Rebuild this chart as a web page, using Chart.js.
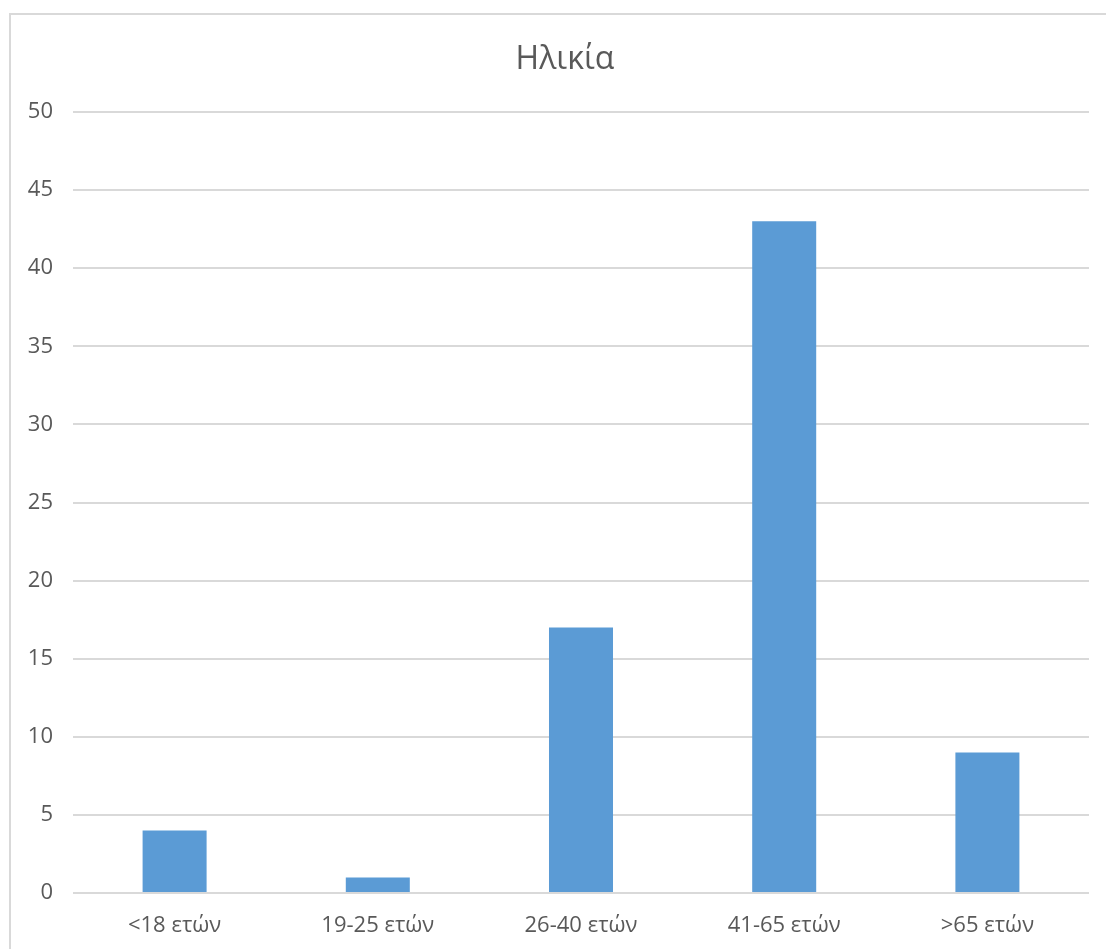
<!DOCTYPE html>
<html>
<head>
<meta charset="utf-8">
<script src="https://cdn.jsdelivr.net/npm/chart.js@4"></script>
<style>
    html, body { margin: 0; padding: 0; background: #fff; overflow: hidden; }
    #myChart { position: absolute; left: 0; top: 0; }
</style>
</head>
<body>
<canvas id="myChart" width="1106" height="949"></canvas>
<script>
// ηλικιακές ομάδες και πλήθος ατόμων
const ageGroups = ['<18 ετών', '19-25 ετών', '26-40 ετών', '41-65 ετών', '>65 ετών'];
const counts = [4, 1, 17, 43, 9];
const yTicks = [0, 5, 10, 15, 20, 25, 30, 35, 40, 45, 50];

const textColor = '#595959';
const gridColor = '#d9d9d9';

// πλαίσιο γύρω από το γράφημα
const frame = {
    id: 'frame',
    beforeDraw(chart){
        const c = chart.ctx;
        c.save();
        c.strokeStyle = gridColor;
        c.lineWidth = 2;
        c.strokeRect(10, 14, chart.width + 20, chart.height + 20);
        c.restore();
    }
};

// ο τίτλος κεντράρεται σε όλο το πλαίσιο, όχι μόνο στην περιοχή μετά τον άξονα
const titleShift = {
    id: 'titleShift',
    afterLayout(chart){
        const t = chart.titleBlock;
        if (t) { t.left += 6.5; t.right += 6.5; }
    }
};

drawChart();

function drawChart(){
    const ctx = document.querySelector("#myChart");

    new Chart(ctx, {
        type: 'bar',
        data: {
            labels: ageGroups,
            datasets: [{
                label: 'Ηλικία',
                data: counts,
                backgroundColor: '#5b9bd5',
                borderWidth: 0,
                barPercentage: 0.315,
                categoryPercentage: 1
            }]
        },
        options: {
            responsive: false,
            animation: false,
            layout: {
                padding: { left: 28, right: 17, top: 0, bottom: 0 }
            },
            plugins: {
                legend: { display: false },
                tooltip: { enabled: false },
                title: {
                    display: true,
                    text: 'Ηλικία',
                    color: textColor,
                    font: { family: 'Open Sans', size: 32, weight: 'normal', lineHeight: 1.2 },
                    padding: { top: 41, bottom: 32.6 }
                }
            },
            scales: {
                x: {
                    grid: { display: false, drawTicks: false },
                    border: { display: false },
                    afterFit(scale){
                        scale.height = 56;
                    },
                    ticks: {
                        color: textColor,
                        padding: 20,
                        maxRotation: 0,
                        font: { family: 'Open Sans', size: 22, lineHeight: 1.2 }
                    }
                },
                y: {
                    min: 0,
                    max: 50,
                    afterBuildTicks(scale){
                        scale.ticks = yTicks.map(v => ({ value: v }));
                    },
                    afterFit(scale){
                        scale.width = 45;
                    },
                    border: { display: false },
                    grid: { color: gridColor, lineWidth: 2, drawTicks: false },
                    ticks: {
                        color: textColor,
                        padding: 20,
                        font: { family: 'Open Sans', size: 22 }
                    }
                }
            }
        },
        plugins: [frame, titleShift]
    });
}
</script>
</body>
</html>
